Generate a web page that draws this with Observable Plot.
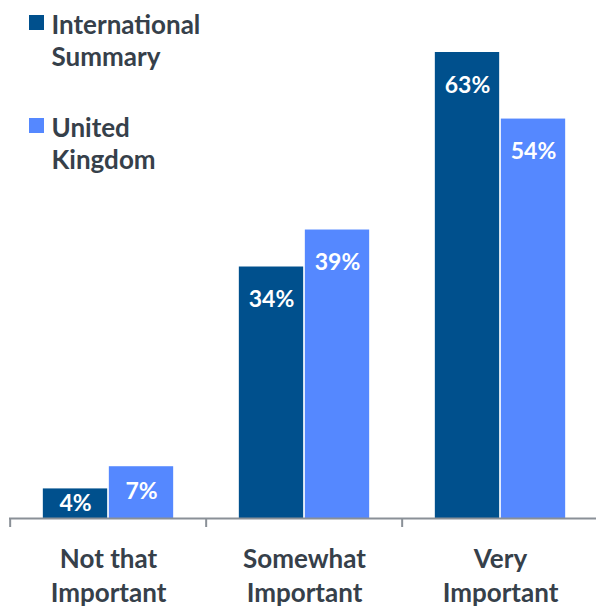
<!DOCTYPE html>
<html>
<head>
<meta charset="utf-8">
<script src="https://cdn.jsdelivr.net/npm/d3@7"></script>
<script src="https://cdn.jsdelivr.net/npm/@observablehq/plot@0.6"></script>
<style>
  html, body { margin: 0; padding: 0; background: #fff; }
  #chart svg { display: block; overflow: visible; }
</style>
</head>
<body>
<div id="chart"></div>
<script>
const categories = ["Not that Important", "Somewhat Important", "Very Important"];
const categoryLabels = ["Not that\nImportant", "Somewhat\nImportant", "Very\nImportant"];
const series = ["International Summary", "United Kingdom"];
const legendLabels = ["International\nSummary", "United\nKingdom"];
const international = [4, 34, 63];
const unitedKingdom = [7, 39, 54];
const colors = ["#00508d", "#5588ff"];

const textColor = "#36404a";
const axisColor = "#8a9097";
const font = "Lato";

const width = 596, height = 607;
const marginLeft = 9, marginRight = -3, marginTop = 52, marginBottom = 89;
const bw = (width - marginLeft - marginRight) / categories.length;
const barW = 65, gap = 1;

const rows = [];
categories.forEach((c, i) => {
  rows.push({category: c, series: series[0], value: international[i]});
  rows.push({category: c, series: series[1], value: unitedKingdom[i]});
});
const intlRows = rows.filter(d => d.series === series[0]);
const ukRows = rows.filter(d => d.series === series[1]);
const big = d => d.value >= 10;

const labelOpts = {
  fill: "white", fontFamily: font, fontWeight: "bold", fontSize: 23,
  text: d => d.value + "%"
};

const chart = Plot.plot({
  width, height, marginLeft, marginRight, marginTop, marginBottom,
  style: {fontFamily: font, background: "white"},
  x: {type: "band", domain: categories, padding: 0, axis: null},
  y: {domain: [0, 63], axis: null},
  marks: [
    Plot.barY(intlRows, {x: "category", y: "value", fill: colors[0],
      insetLeft: bw / 2 - gap / 2 - barW, insetRight: bw / 2 + gap / 2}),
    Plot.barY(ukRows, {x: "category", y: "value", fill: colors[1],
      insetLeft: bw / 2 + gap / 2, insetRight: bw / 2 - gap / 2 - barW}),
    // value labels (inside end for tall bars, centered for short bars)
    Plot.text(intlRows.filter(big), {...labelOpts, x: "category", y: "value", dx: -(barW + gap) / 2, lineAnchor: "top", dy: 24}),
    Plot.text(ukRows.filter(big), {...labelOpts, x: "category", y: "value", dx: (barW + gap) / 2, lineAnchor: "top", dy: 24}),
    Plot.text(intlRows.filter(d => !big(d)), {...labelOpts, x: "category", y: d => d.value / 2, dx: -(barW + gap) / 2, lineAnchor: "middle"}),
    Plot.text(ukRows.filter(d => !big(d)), {...labelOpts, x: "category", y: d => d.value / 2, dx: (barW + gap) / 2, lineAnchor: "middle", dy: -1}),
    // axis line and ticks at category boundaries
    Plot.ruleY([0], {stroke: axisColor, strokeWidth: 2}),
    Plot.ruleX(categories, {x: d => d, dx: -bw / 2, y1: 0, y2: 0, insetBottom: -9, stroke: axisColor, strokeWidth: 2}),
    Plot.ruleX(categories.slice(-1), {x: d => d, dx: bw / 2, y1: 0, y2: 0, insetBottom: -9, stroke: axisColor, strokeWidth: 2}),
    // category labels
    Plot.text(categories, {x: d => d, y: 0, text: (d, i) => categoryLabels[i],
      lineAnchor: "top", dy: 25, lineHeight: 1.31,
      fill: textColor, fontFamily: font, fontWeight: "bold", fontSize: 26}),
    // legend
    Plot.dot([0], {frameAnchor: "top-left", dx: 27, dy: -30, symbol: "square", r: 8.2,
      fill: colors[0], shapeRendering: "crispEdges"}),
    Plot.dot([0], {frameAnchor: "top-left", dx: 27, dy: 73, symbol: "square", r: 8.2,
      fill: colors[1], shapeRendering: "crispEdges"}),
    Plot.text([legendLabels[0]], {frameAnchor: "top-left", text: d => d, dx: 42, dy: -42,
      textAnchor: "start", lineAnchor: "top", lineHeight: 1.25,
      fill: textColor, fontFamily: font, fontWeight: "bold", fontSize: 26}),
    Plot.text([legendLabels[1]], {frameAnchor: "top-left", text: d => d, dx: 42, dy: 61,
      textAnchor: "start", lineAnchor: "top", lineHeight: 1.25,
      fill: textColor, fontFamily: font, fontWeight: "bold", fontSize: 26})
  ]
});
document.getElementById("chart").appendChild(chart);
</script>
</body>
</html>
